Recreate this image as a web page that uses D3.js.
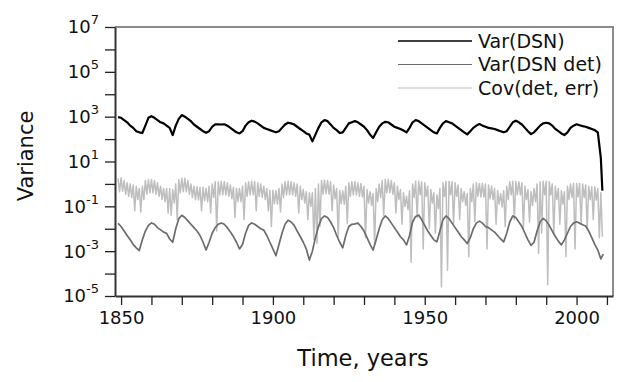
<!DOCTYPE html>
<html>
<head>
<meta charset="utf-8">
<script src="https://cdn.jsdelivr.net/npm/d3@7"></script>
<style>
  body { margin: 0; background: #fff; }
  text { font-family: "DejaVu Sans", sans-serif; fill: #111; }
</style>
</head>
<body>
<div id="chart"></div>
<script>
// Var(DSN), one value per year from 1849, then the drop at the end
const dsnStart = 1849;
const dsnValues = [
    955, 891, 708, 562, 398, 316, 224, 200, 186, 398,
    891, 1047, 891, 708, 562, 501, 398, 316, 151, 398,
    794, 1175, 1000, 794, 631, 447, 355, 282, 224, 191,
    224, 355, 457, 457, 447, 457, 398, 316, 251, 200,
    178, 224, 398, 562, 661, 603, 501, 398, 316, 282,
    251, 224, 200, 224, 316, 447, 537, 501, 447, 355,
    282, 224, 178, 158, 79, 158, 316, 562, 708, 631,
    447, 316, 251, 186, 200, 316, 501, 562, 631, 562,
    447, 355, 251, 158, 112, 200, 355, 501, 589, 562,
    447, 355, 316, 282, 240, 200, 316, 562, 708, 631,
    501, 398, 316, 251, 200, 178, 316, 501, 631, 562,
    501, 398, 316, 251, 200, 162, 224, 316, 398, 468,
    398, 355, 316, 302, 282, 251, 224, 200, 224, 355,
    562, 661, 562, 447, 316, 224, 166, 200, 282, 398,
    501, 537, 501, 398, 282, 224, 178, 151, 200, 316,
    398, 457, 417, 380, 355, 316, 282, 251, 200, 14
];
const dsnTailYears = [2008.5];
const dsnTailValues = [0.5];

// Var(DSN det), one value per year from 1849
const detStart = 1849;
const detValues = [
    0.0174, 0.0126, 0.0079, 0.005, 0.0032, 0.002, 0.0014, 0.00107, 0.0032, 0.0079,
    0.0141, 0.0182, 0.0158, 0.0112, 0.0089, 0.0071, 0.0062, 0.0035, 0.0025, 0.01,
    0.0282, 0.0398, 0.0316, 0.0224, 0.0158, 0.0112, 0.0079, 0.005, 0.0025, 0.00112,
    0.0025, 0.0063, 0.0112, 0.0158, 0.0182, 0.0158, 0.0112, 0.0071, 0.0045, 0.0025,
    0.00126, 0.002, 0.0063, 0.0141, 0.0182, 0.0158, 0.0126, 0.01, 0.0087, 0.005,
    0.0025, 0.00126, 0.00063, 0.002, 0.0063, 0.0158, 0.024, 0.02, 0.0141, 0.0079,
    0.0045, 0.0025, 0.00126, 0.0004, 0.001, 0.004, 0.0126, 0.0282, 0.0372, 0.0316,
    0.02, 0.0112, 0.005, 0.0025, 0.0014, 0.005, 0.0126, 0.0158, 0.0166, 0.0178,
    0.0126, 0.0079, 0.004, 0.002, 0.00112, 0.0032, 0.01, 0.0251, 0.0372, 0.0282,
    0.0178, 0.0112, 0.0071, 0.0044, 0.0032, 0.0019, 0.005, 0.02, 0.0355, 0.0407,
    0.0251, 0.0141, 0.0079, 0.005, 0.0032, 0.0026, 0.0079, 0.0251, 0.0372, 0.0282,
    0.0178, 0.0112, 0.0071, 0.0045, 0.0032, 0.0022, 0.004, 0.01, 0.0178, 0.0219,
    0.0178, 0.0126, 0.0112, 0.0089, 0.0071, 0.005, 0.0035, 0.0026, 0.0063, 0.02,
    0.0372, 0.0316, 0.02, 0.0126, 0.0063, 0.0032, 0.0018, 0.0025, 0.0079, 0.02,
    0.0288, 0.0224, 0.0141, 0.0079, 0.0045, 0.0028, 0.0019, 0.0032, 0.0063, 0.0126,
    0.0178, 0.0204, 0.0178, 0.0151, 0.0132, 0.0079, 0.004, 0.002, 0.00112, 0.00045
];
const detTailYears = [2008.8];
const detTailValues = [0.00074];

// Cov(det, err), two values per year (half-year steps) from 1849
const covStart = 1849;
const covStep = 0.5;
const covValues = [
    1.78, 0.45,  1.86, 0.47,  1.41, 0.35,  1.12, 0.28,  1.0, 0.25,
    0.89, 0.063, 0.79, 0.2,   0.63, 0.056, 0.79, 0.2,   1.41, 0.35,
    1.58, 0.4,   1.58, 0.4,   1.41, 0.35,  1.12, 0.28,  0.79, 0.2,
    0.63, 0.16,  0.63, 0.05,  0.63, 0.04,  0.56, 0.14,  1.0, 0.025,
    1.58, 0.4,   1.78, 0.45,  1.78, 0.45,  1.41, 0.35,  1.0, 0.25,
    0.79, 0.2,   0.74, 0.19,  0.71, 0.063, 0.71, 0.18,  0.63, 0.16,
    0.79, 0.05,  1.0, 0.25,   1.26, 0.0079, 1.26, 0.32, 1.32, 0.33,
    1.26, 0.32,  1.12, 0.28,  0.89, 0.22,  0.71, 0.032, 0.63, 0.16,
    0.63, 0.16,  0.79, 0.025, 1.12, 0.28,  1.26, 0.32,  1.32, 0.33,
    1.26, 0.063, 1.12, 0.28,  1.0, 0.25,   0.79, 0.2,   0.63, 0.063,
    0.52, 0.0126, 0.52, 0.13, 0.5, 0.126,  0.63, 0.056, 1.0, 0.25,
    1.26, 0.32,  1.32, 0.33,  1.26, 0.32,  1.12, 0.28,  1.0, 0.05,
    0.79, 0.2,   0.56, 0.14,  0.45, 0.025, 0.4, 0.1,    0.4, 0.0032,
    0.63, 0.0022, 1.0, 0.0126, 1.41, 0.35, 1.48, 0.37,  1.41, 0.35,
    1.26, 0.063, 0.89, 0.22,  0.63, 0.0044, 0.52, 0.13, 0.5, 0.126,
    0.79, 0.017, 1.12, 0.28,  1.26, 0.32,  1.26, 0.32,  1.12, 0.28,
    1.05, 0.26,  0.79, 0.004, 0.56, 0.14,  0.45, 0.11,  0.37, 0.002,
    0.63, 0.16,  1.0, 0.25,   1.41, 0.04,  1.58, 0.4,   1.58, 0.4,
    1.41, 0.35,  1.12, 0.05,  0.79, 0.2,   0.56, 0.016, 0.4, 0.1,
    0.28, 0.071, 0.5, 0.00032, 1.0, 0.25,  1.32, 0.032, 1.32, 0.33,
    1.26, 0.00126, 1.12, 0.28, 0.79, 0.01, 0.56, 0.14,  0.4, 0.0063,
    0.32, 0.08,  0.63, 2.5e-5, 1.12, 0.28, 1.32, 0.00014, 1.32, 0.33,
    1.26, 0.016, 1.12, 0.28,  0.89, 0.025, 0.63, 0.16,  0.45, 0.11,
    0.37, 0.00056, 0.63, 0.16, 1.0, 0.02,  1.12, 0.28,  1.05, 0.26,
    1.05, 0.26,  1.0, 0.00126, 0.89, 0.22, 0.79, 0.2,   0.63, 0.016,
    0.5, 0.126,  0.37, 0.093, 0.5, 0.0126, 0.79, 0.2,   1.26, 0.32,
    1.32, 0.025, 1.32, 0.33,  1.26, 0.32,  1.12, 0.01,  0.79, 0.2,
    0.56, 0.02,  0.45, 0.11,  0.63, 0.16,  1.0, 0.0008, 1.26, 0.0063,
    1.32, 0.33,  1.32, 3.2e-5, 1.26, 0.32, 1.0, 0.0063, 0.79, 0.2,
    0.63, 0.016, 0.5, 0.126,  0.45, 0.00056, 0.79, 0.2, 1.0, 0.25,
    1.05, 0.00126, 1.05, 0.26, 1.05, 0.016, 1.0, 0.25,  0.89, 0.01,
    0.79, 0.2,   0.74, 0.025, 0.74, 0.19,  0.63, 0.004, 0.4, 0.0044
];

const xTicks = [1850, 1860, 1870, 1880, 1890, 1900, 1910, 1920, 1930, 1940, 1950, 1960, 1970, 1980, 1990, 2000, 2010];
const xLabels = [1850, 1900, 1950, 2000];
const yTicks = [1e7, 1e6, 1e5, 1e4, 1e3, 1e2, 1e1, 1e0, 1e-1, 1e-2, 1e-3, 1e-4, 1e-5];
const yLabelExps = [7, 5, 3, 1, -1, -3, -5];

const seriesNames = ['Var(DSN)', 'Var(DSN det)', 'Cov(det, err)'];
const seriesColors = ['#000000', '#6c6c6c', '#bebebe'];
const seriesWidths = [2.2, 1.7, 1.5];

const toPoints = (start, step, values) => values.map((v, i) => ({year: start + i * step, value: v}));

const dsn = toPoints(dsnStart, 1, dsnValues)
    .concat(dsnTailYears.map((yr, i) => ({year: yr, value: dsnTailValues[i]})));
const det = toPoints(detStart, 1, detValues)
    .concat(detTailYears.map((yr, i) => ({year: yr, value: detTailValues[i]})));
const cov = toPoints(covStart, covStep, covValues);

const W = 623, H = 382;
const margin = {top: 27, right: 10, bottom: 86, left: 115};
const width = W - margin.left - margin.right;
const height = H - margin.top - margin.bottom;

const svg = d3.select('#chart')
    .append('svg')
        .attr('width', W)
        .attr('height', H);

const g = svg.append('g')
    .attr('transform', `translate(${margin.left},${margin.top})`);

const x = d3.scaleLinear()
    .domain([1848, 2012])
    .range([0, width]);

const y = d3.scaleLog()
    .domain([1e-5, 1e7])
    .range([height, 0]);

g.append('clipPath')
    .attr('id', 'clip')
    .append('rect')
        .attr('width', width)
        .attr('height', height);

const line = d3.line()
    .x(d => x(d.year))
    .y(d => y(d.value));

// draw light first so the darker lines sit on top
[cov, det, dsn].forEach((data, k) => {
    let idx = 2 - k;
    g.append('path')
        .datum(data)
        .attr('clip-path', 'url(#clip)')
        .attr('fill', 'none')
        .attr('stroke', seriesColors[idx])
        .attr('stroke-width', seriesWidths[idx])
        .attr('stroke-linejoin', 'round')
        .attr('d', line);
});

// frame top / right
g.append('path')
    .attr('d', `M0,0H${width}V${height}`)
    .attr('fill', 'none')
    .attr('stroke', '#8c8c8c')
    .attr('stroke-width', 2);

// X axis
const xAxis = d3.axisBottom(x)
    .tickValues(xTicks)
    .tickSize(9)
    .tickSizeOuter(0)
    .tickPadding(6)
    .tickFormat(d => xLabels.includes(d) ? d : '');

const gx = g.append('g')
    .attr('transform', `translate(0,${height})`)
    .call(xAxis);
gx.selectAll('text').attr('font-size', 18).style('font-family', '"DejaVu Sans", sans-serif').attr('fill', '#111');

// Y axis
const yAxis = d3.axisLeft(y)
    .tickValues(yTicks)
    .tickSize(10)
    .tickSizeOuter(0)
    .tickFormat('');

const gy = g.append('g')
    .call(yAxis);

[gx, gy].forEach(ax => {
    ax.select('.domain').attr('stroke', '#333').attr('stroke-width', 2);
    ax.selectAll('.tick line').attr('stroke', '#222').attr('stroke-width', 1.3);
});

const yLab = g.selectAll('.ylab')
    .data(yLabelExps)
    .enter()
    .append('text')
        .attr('class', 'ylab')
        .attr('x', -16)
        .attr('y', e => y(Math.pow(10, e)))
        .attr('dy', '0.36em')
        .attr('text-anchor', 'end')
        .attr('font-size', 18);
yLab.append('tspan').text('10');
yLab.append('tspan')
    .attr('dy', -9)
    .attr('font-size', 13)
    .text(e => e < 0 ? '-' + Math.abs(e) : e);

// axis titles
svg.append('text')
    .attr('x', 363)
    .attr('y', 366)
    .attr('text-anchor', 'middle')
    .attr('font-size', 22.5)
    .text('Time, years');

svg.append('text')
    .attr('transform', 'translate(33,156) rotate(-90)')
    .attr('text-anchor', 'middle')
    .attr('font-size', 21)
    .text('Variance');

// legend
const legend = svg.append('g')
    .selectAll('g')
    .data(seriesNames)
    .enter()
    .append('g')
        .attr('transform', (d, i) => `translate(398,${41 + i * 23.5})`);

legend.append('line')
    .attr('x1', 0)
    .attr('x2', 74)
    .attr('stroke', (d, i) => seriesColors[i])
    .attr('stroke-width', (d, i) => i == 0 ? 1.6 : 1.2);

legend.append('text')
    .attr('x', 80)
    .attr('dy', '0.36em')
    .attr('font-size', 19)
    .text(d => d);
</script>
</body>
</html>
